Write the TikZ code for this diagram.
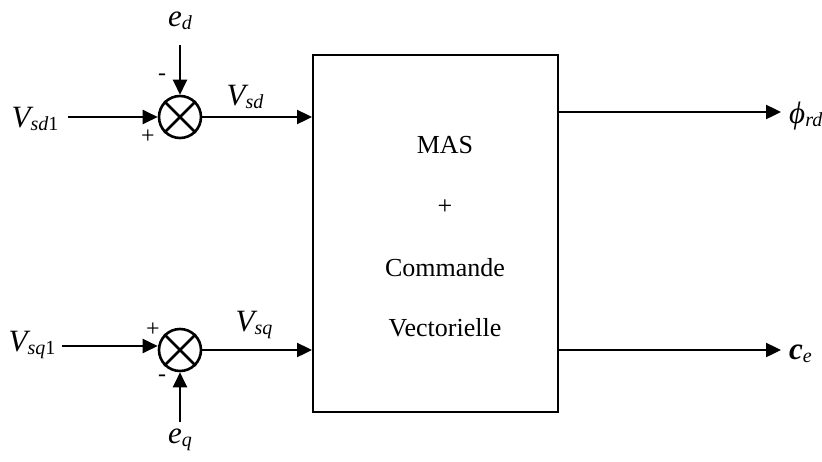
\documentclass[tikz,border=0pt]{standalone}
\usepackage{fontspec}
\setmainfont{Liberation Serif}
\usetikzlibrary{arrows.meta}
\newcommand\lbl[1]{{\fontsize{31}{31}\selectfont\itshape #1}}
\newcommand\subs[1]{\raisebox{-0.3em}{\fontsize{20}{20}\selectfont #1}}
\begin{document}
\begin{tikzpicture}[x=1pt,y=-1pt,
  sig/.style={line width=2.4pt,-{Triangle[length=15pt,width=14pt]}},
  sumnode/.style={circle,draw,line width=2.6pt,minimum size=42pt,inner sep=0pt},
  boxtxt/.style={font=\fontsize{26}{26}\selectfont},
  sign/.style={font=\fontsize{24}{24}\selectfont},
  varlbl/.style={inner sep=0pt}]
\useasboundingbox (0,0) rectangle (822,461);
% main block
\node[draw,line width=2pt,minimum width=245pt,minimum height=357pt,inner sep=0pt] (blk) at (435.5,233.5) {};
\node[boxtxt] (t1) at (445,145) {MAS};
\node[boxtxt] (t2) at (445,207) {+};
\node[boxtxt] (t3) at (445,268) {Commande};
\node[boxtxt] (t4) at (445,328) {Vectorielle};
% summing junctions
\node[sumnode] (s1) at (180,117) {};
\draw[line width=2.6pt] (s1.north west) -- (s1.south east) (s1.north east) -- (s1.south west);
\node[sumnode] (s2) at (180,350) {};
\draw[line width=2.6pt] (s2.north west) -- (s2.south east) (s2.north east) -- (s2.south west);
% labels
\node[varlbl] (vsd1) at (35,119) {\lbl{V}\subs{\itshape sd}\subs{1}};
\node[varlbl] (ed) at (180,21) {\lbl{e}\subs{\itshape d}};
\node[varlbl] (vsd) at (245,97) {\lbl{V}\subs{\itshape sd}};
\node[varlbl] (vsq1) at (32,345) {\lbl{V}\subs{\itshape sq}\subs{1}};
\node[varlbl] (eq) at (180,440) {\lbl{e}\subs{\itshape q}};
\node[varlbl] (vsq) at (254,325) {\lbl{V}\subs{\itshape sq}};
\node[varlbl,anchor=west] (phi) at (789,116) {\lbl{ϕ}\subs{\itshape rd}};
\node[varlbl,anchor=west] (ce) at (789,354) {\lbl{\bfseries c}\subs{\itshape e}};
\node[sign] (m1) at (162,77) {-};
\node[sign] (p1) at (148,137) {+};
\node[sign] (p2) at (153,330) {+};
\node[sign] (m2) at (162,378) {-};
% connector endpoints
\coordinate (a1) at (68,117);
\coordinate (b1) at (180,45);
\coordinate (a2) at (62,346);
\coordinate (b2) at (180,422);
\coordinate (o1) at (781,112);
\coordinate (o2) at (781,350);
% connectors
\draw[sig] (a1) -- (a1 -| s1.west);
\draw[sig] (b1) -- (s1.north);
\draw[sig] (s1.east) -- (s1.east -| blk.west);
\draw[sig] (a2) -- (a2 -| s2.west);
\draw[sig] (b2) -- (s2.south);
\draw[sig] (s2.east) -- (s2.east -| blk.west);
\draw[sig] (o1 -| blk.east) -- (o1);
\draw[sig] (o2 -| blk.east) -- (o2);
\end{tikzpicture}
\end{document}
